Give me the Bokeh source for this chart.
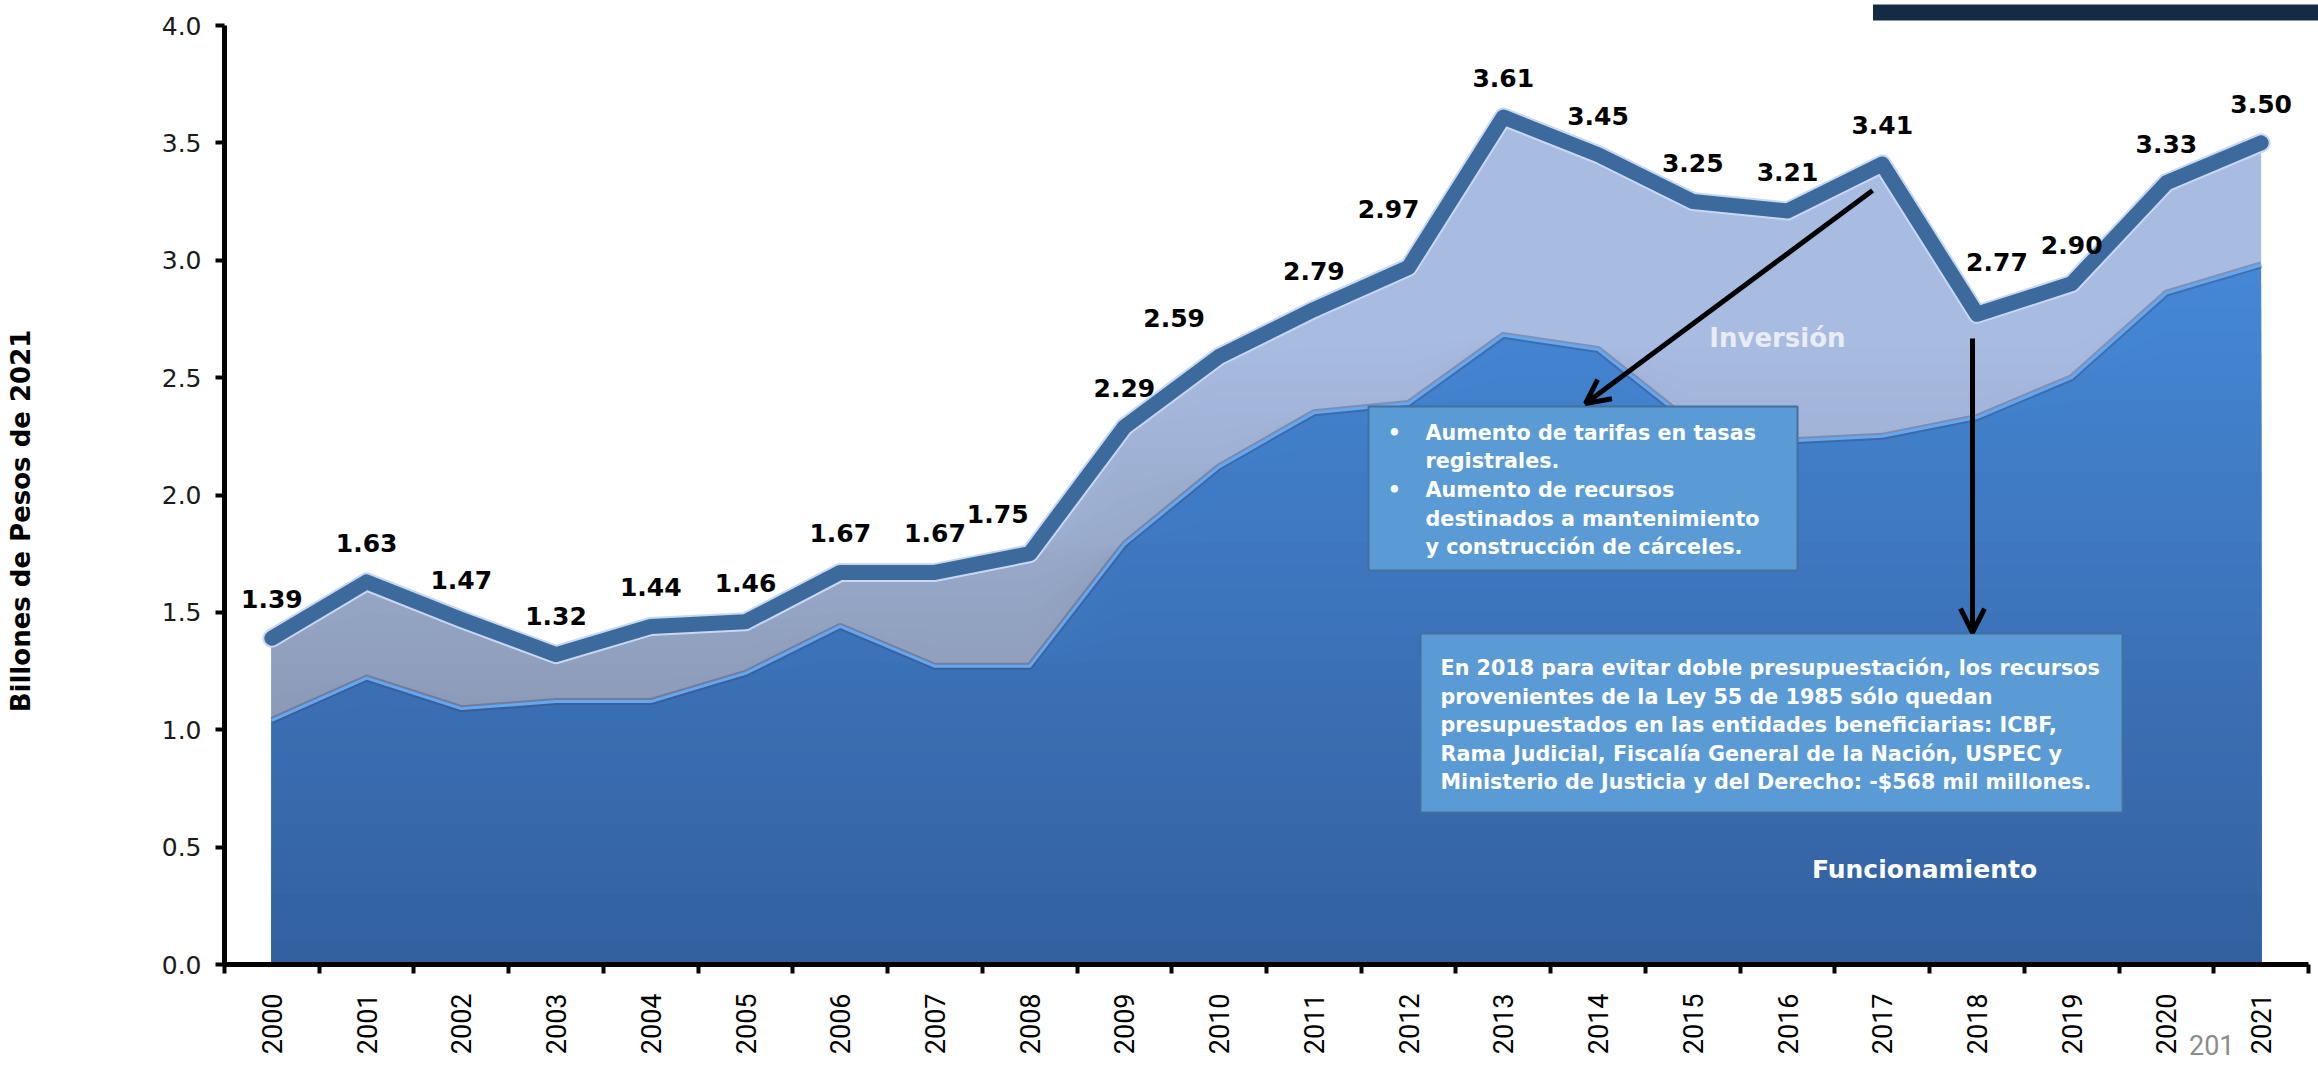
import numpy as np
from bokeh.plotting import figure
from bokeh.models import (Range1d, FixedTicker, Arrow, OpenHead, Title,
                          PrintfTickFormatter)
from bokeh.core.properties import value
from bokeh.embed import file_html
from bokeh.resources import INLINE

# ---------------- data ----------------
years = list(range(2000, 2022))
total = [1.39, 1.63, 1.47, 1.32, 1.44, 1.46, 1.67, 1.67, 1.75, 2.29, 2.59,
         2.79, 2.97, 3.61, 3.45, 3.25, 3.21, 3.41, 2.77, 2.90, 3.33, 3.50]
funcionamiento = [1.04, 1.22, 1.09, 1.12, 1.12, 1.24, 1.44, 1.27, 1.27, 1.79, 2.12,
                  2.35, 2.39, 2.68, 2.62, 2.30, 2.23, 2.25, 2.33, 2.50, 2.86, 2.98]
y_ticks = [0.0, 0.5, 1.0, 1.5, 2.0, 2.5, 3.0, 3.5, 4.0]
y_title = "Billones de Pesos de 2021"
series_names = ["Inversión", "Funcionamiento"]
note1 = ["Aumento de tarifas en tasas", "registrales.", "Aumento de recursos",
         "destinados a mantenimiento", "y construcción de cárceles."]
note1_bullets = ["•", "", "•", "", ""]
note2 = ["En 2018 para evitar doble presupuestación, los recursos",
         "provenientes de la Ley 55 de 1985 sólo quedan",
         "presupuestados en las entidades beneficiarias: ICBF,",
         "Rama Judicial, Fiscalía General de la Nación, USPEC y",
         "Ministerio de Justicia y del Derecho: -$568 mil millones."]
page_number = "201"

# ---------------- style ----------------
SANS = "DejaVu Sans"
NUM = "Roboto"
EM = "\u2003"

p = figure(width=2318, height=1067,
           x_range=Range1d(1999.5, 2021.5), y_range=Range1d(0, 4),
           output_backend="svg", toolbar_location=None,
           min_border_left=224, min_border_right=10,
           min_border_top=25, min_border_bottom=103)
p.xgrid.visible = False
p.ygrid.visible = False
p.outline_line_color = None
p.background_fill_color = "white"

# dark slide bar at the top right (title background)
p.title = Title(text=EM * 33, align="right", offset=-10, standoff=6,
                vertical_align="top",
                text_font=SANS, text_font_size="13.5px", text_color="#132B45",
                background_fill_color="#132B45", background_fill_alpha=1.0)
p.title_location = "above"

# slide page number at the bottom right
p.add_layout(Title(text=page_number, align="right", offset=74, standoff=-46,
                   vertical_align="top", text_font=NUM, text_font_size="27px",
                   text_font_style="normal", text_color="#8C8C8C"), "below")

# x axis: labels at years, ticks between years
p.xaxis.ticker = FixedTicker(ticks=years,
                             minor_ticks=[y - 0.5 for y in years] + [years[-1] + 0.5])
p.xaxis.formatter = PrintfTickFormatter(format="%d")
p.xaxis.major_label_orientation = np.pi / 2
p.xaxis.major_tick_line_color = None
p.xaxis.major_tick_out = 0
p.xaxis.major_tick_in = 0
p.xaxis.minor_tick_line_color = "black"
p.xaxis.minor_tick_line_width = 4
p.xaxis.minor_tick_out = 9
p.xaxis.minor_tick_in = 0
p.xaxis.axis_line_width = 5
p.xaxis.axis_line_color = "black"
p.xaxis.major_label_text_font = NUM
p.xaxis.major_label_text_font_size = "27px"
p.xaxis.major_label_text_color = "black"
p.xaxis.major_label_standoff = 20

# y axis
p.yaxis.ticker = FixedTicker(ticks=y_ticks)
p.yaxis.formatter = PrintfTickFormatter(format="%.1f")
p.yaxis.major_tick_out = 9
p.yaxis.major_tick_in = 0
p.yaxis.major_tick_line_width = 4
p.yaxis.minor_tick_line_color = None
p.yaxis.axis_line_width = 5
p.yaxis.axis_line_color = "black"
p.yaxis.major_label_text_font = SANS
p.yaxis.major_label_text_font_size = "25px"
p.yaxis.major_label_text_color = "#1a1a1a"
p.yaxis.major_label_standoff = 14
p.yaxis.axis_label = y_title + EM + EM
p.yaxis.axis_label_text_font = SANS
p.yaxis.axis_label_text_font_style = "bold"
p.yaxis.axis_label_text_font_size = "26px"
p.yaxis.axis_label_text_color = "black"
p.yaxis.axis_label_standoff = 123

f = np.array(funcionamiento)
t = np.array(total)


def mix(c0, c1, a):
    a = min(max(a, 0.0), 1.0)
    r = [int(round(c0[i] + (c1[i] - c0[i]) * a)) for i in range(3)]
    return "#%02x%02x%02x" % tuple(r)


# Funcionamiento: vertical gradient (layers drawn from top down)
blue_bottom, blue_top = (0x33, 0x60, 0x9F), (0x45, 0x88, 0xD6)
nb = 30
b_edges = np.linspace(0, 3.0, nb + 1)
for k in range(nb, 0, -1):
    hi = 10.0 if k == nb else b_edges[k]
    p.varea(x=years, y1=np.zeros_like(f), y2=np.minimum(f, hi),
            fill_color=mix(blue_bottom, blue_top, (k - 0.5) / nb))

# Inversión: vertical gradient between funcionamiento and total
grey_bottom, grey_top = (0x8A, 0x99, 0xB5), (0xA9, 0xBC, 0xE2)
ng = 24
g_edges = np.linspace(1.0, 2.7, ng + 1)
for k in range(ng, 0, -1):
    hi = 10.0 if k == ng else g_edges[k]
    p.varea(x=years, y1=f, y2=np.maximum(f, np.minimum(t, hi)),
            fill_color=mix(grey_bottom, grey_top, (k - 0.5) / ng))

# bevel edges
p.line(years, f, line_color="#3a4660", line_width=7, line_alpha=0.35, line_join="round")
p.line(years, f, line_color="#66A7F2", line_width=3, line_join="round")
p.line(years, t, line_color="#C8D8F2", line_width=19, line_join="round", line_cap="round")
p.line(years, t, line_color="#3D6A9D", line_width=15, line_join="round", line_cap="round")

# data labels
dx = [0] * len(years)
dy = [-39] * len(years)
adjust = {2008: (-32, -40), 2010: (-45, -38), 2012: (-20, -58), 2018: (20, -52)}
for yr, (ax, ay) in adjust.items():
    i = years.index(yr)
    dx[i], dy[i] = ax, ay
p.text(x=years, y=total, text=["%.2f" % v for v in total], x_offset=dx, y_offset=dy,
       text_align="center", text_baseline="middle", text_font=value(SANS),
       text_font_style="bold", text_font_size="25px", text_color="black")

# series names
p.text(x=[2015.894], y=[2.667], text=[series_names[0]], text_align="center",
       text_baseline="middle", text_font=value(SANS), text_font_style="bold",
       text_font_size="26px", text_color="#E8ECF5")
p.text(x=[2017.446], y=[0.405], text=[series_names[1]], text_align="center",
       text_baseline="middle", text_font=value(SANS), text_font_style="bold",
       text_font_size="25px", text_color="white")

# note boxes
BOX_FILL, BOX_LINE = "#5B9BD5", "#41719C"
p.quad(left=[2011.577], right=[2016.106], top=[2.377], bottom=[1.678],
       fill_color=BOX_FILL, line_color=BOX_LINE, line_width=2)
p.quad(left=[2012.126], right=[2019.537], top=[1.410], bottom=[0.6475],
       fill_color=BOX_FILL, line_color=BOX_LINE, line_width=2)

NOTE_SIZE = "20.7px"
sp1 = 28.7
p.text(x=[2012.179] * len(note1), y=[2.266] * len(note1), text=note1,
       y_offset=[i * sp1 for i in range(len(note1))], text_align="left",
       text_baseline="middle", text_font=value(SANS), text_font_style="bold",
       text_font_size=NOTE_SIZE, text_color="white")
p.text(x=[2011.851] * len(note1), y=[2.266] * len(note1), text=note1_bullets,
       y_offset=[i * sp1 for i in range(len(note1))], text_align="center",
       text_baseline="middle", text_font=value(SANS), text_font_style="bold",
       text_font_size=NOTE_SIZE, text_color="white")

sp2 = 28.5
p.text(x=[2012.337] * len(note2), y=[1.261] * len(note2), text=note2,
       y_offset=[i * sp2 for i in range(len(note2))], text_align="left",
       text_baseline="middle", text_font=value(SANS), text_font_style="bold",
       text_font_size=NOTE_SIZE, text_color="white")

# arrows
p.add_layout(Arrow(end=OpenHead(size=24, line_width=5, line_color="black"),
                   x_start=2016.898, y_start=3.297, x_end=2013.868, y_end=2.390,
                   line_width=5, line_color="black"))
p.add_layout(Arrow(end=OpenHead(size=24, line_width=5, line_color="black"),
                   x_start=2017.953, y_start=2.667, x_end=2017.953, y_end=1.414,
                   line_width=5, line_color="black"))

open("out.html", "w").write(file_html(p, INLINE))
